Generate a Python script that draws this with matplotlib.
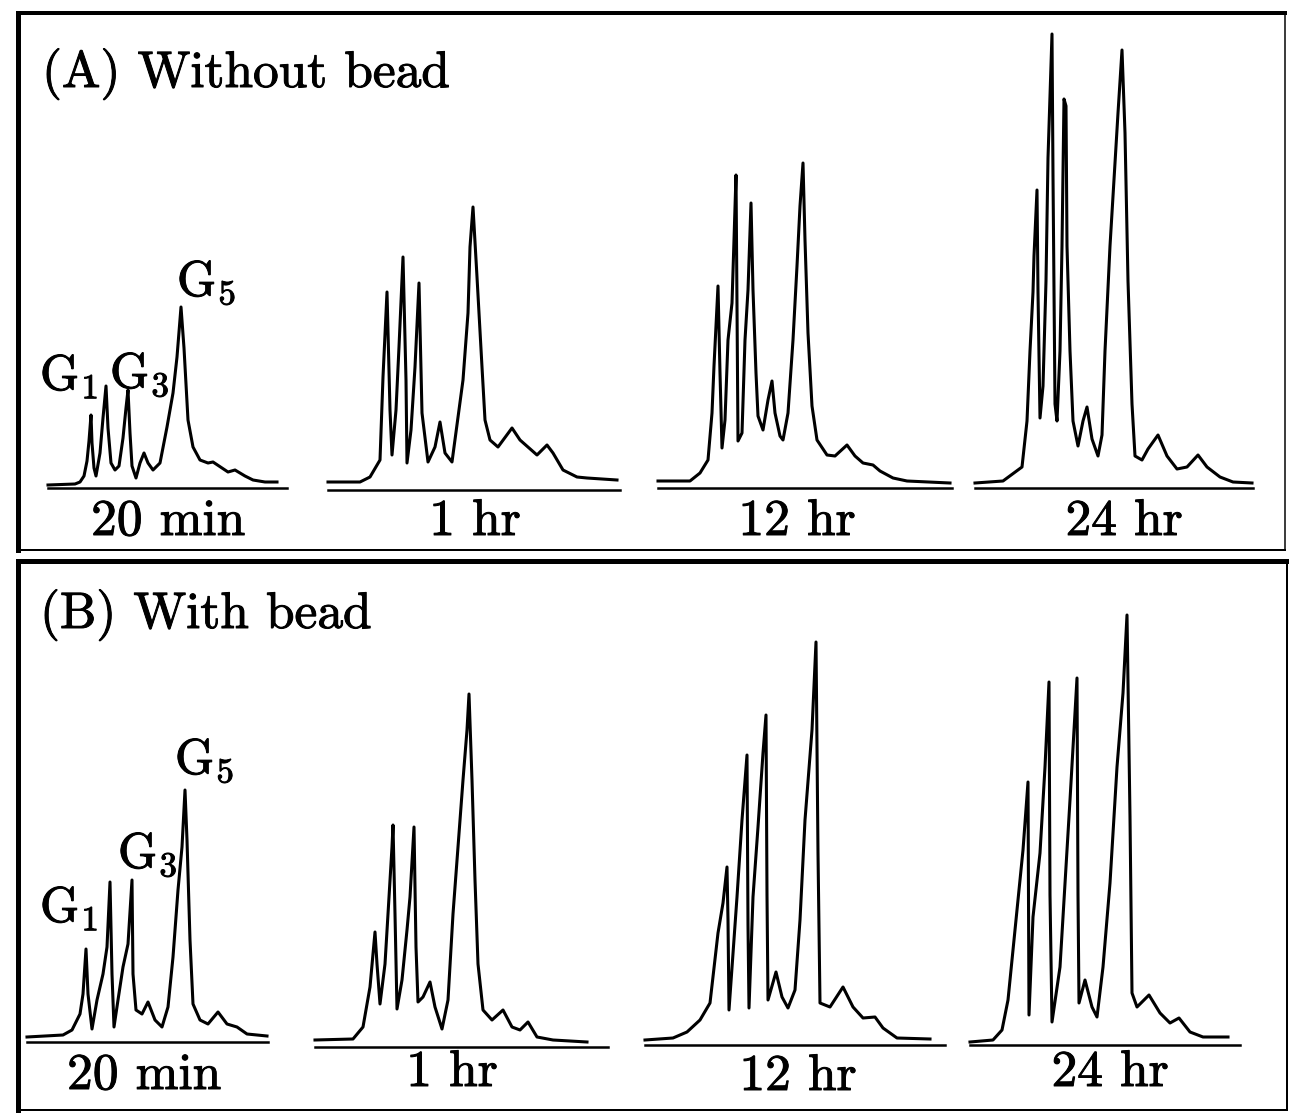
import matplotlib.pyplot as plt
import matplotlib.patheffects as pe
from matplotlib.lines import Line2D

plt.rcParams['mathtext.fontset'] = 'cm'

W, H = 1289, 1115

# ---- traces: elution position (a.u.) vs detector response (a.u.) ----
# (A) without bead
a_20min_t = [0, 27, 32, 36, 39, 41, 43, 44, 46, 48, 52, 55, 58, 60, 63, 67, 71, 75, 78, 80,
             82, 84, 88, 92, 96, 100, 105, 112, 119, 125, 129, 133, 136, 140, 145, 152, 160,
             165, 174, 180, 187, 197, 205, 217, 229]
a_20min_y = [3, 4, 6, 12, 27, 47, 73, 45, 20, 12, 35, 70, 102, 60, 25, 18, 22, 50, 80, 98,
             55, 22, 10, 25, 35, 25, 18, 25, 61, 95, 131, 181, 140, 68, 41, 28, 25,
             26, 20, 16, 18, 12, 8, 6, 6]

a_1hr_t = [0, 32, 42, 52, 55, 59, 62, 64, 68, 71, 75, 78, 79, 83, 87, 91, 94, 100, 107, 112,
           117, 124, 135, 140, 142, 145, 149, 154, 157, 162, 170, 184, 192, 209, 219, 225,
           235, 249, 259, 289]
a_1hr_y = [8, 8, 13, 30, 113, 198, 80, 35, 80, 143, 233, 110, 27, 60, 123, 207, 77, 28, 43, 68,
           37, 28, 110, 177, 243, 283, 213, 123, 70, 50, 43, 62, 50, 35, 45, 37,
           20, 13, 12, 10]

a_12hr_t = [0, 32, 42, 50, 54, 56, 60, 62, 64, 67, 70, 74, 76, 78, 79, 80, 84, 87, 90, 93,
            95, 98, 100, 105, 110, 114, 117, 122, 125, 130, 135, 139, 142, 145, 147, 150,
            154, 159, 169, 177, 189, 197, 205, 215, 222, 235, 249, 292]
a_12hr_y = [7, 7, 15, 28, 75, 122, 202, 115, 40, 68, 148, 185, 248, 313, 182, 47, 55, 148, 198, 285,
            198, 115, 72, 58, 88, 107, 75, 52, 48, 75, 148, 222, 282, 325, 248, 155,
            82, 48, 33, 32, 43, 32, 25, 23, 17, 10, 7, 5]

a_24hr_t = [0, 28, 47, 52, 55, 58, 59, 62, 63, 65, 68, 71, 73, 77, 78, 80, 82, 85, 87, 89,
            91, 92, 95, 98, 103, 108, 112, 117, 123, 127, 130, 135, 140, 143, 147, 150,
            153, 157, 160, 167, 173, 183, 192, 202, 212, 223, 232, 245, 258, 277]
a_24hr_y = [5, 7, 21, 67, 137, 196, 232, 298, 196, 70, 102, 207, 330, 454, 312, 84, 67, 137, 242, 389,
            382, 242, 137, 67, 42, 67, 81, 49, 32, 53, 137, 242, 325, 375, 438, 355,
            207, 84, 32, 28, 39, 53, 32, 19, 21, 33, 21, 11, 6, 5]

# (B) with bead
b_20min_t = [0, 36, 45, 53, 56, 59, 61, 65, 70, 76, 80, 83, 85, 87, 91, 96, 101, 105, 106, 109,
             115, 121, 128, 135, 141, 146, 151, 155, 158, 160, 163, 166, 173, 181, 191, 200,
             210, 220, 240]
b_20min_y = [5, 7, 12, 28, 48, 93, 48, 13, 42, 68, 95, 160, 68, 15, 42, 75, 98, 162, 68, 32,
             28, 40, 22, 15, 35, 85, 152, 195, 252, 202, 102, 38, 22, 18, 30, 18,
             15, 8, 6]

b_1hr_t = [0, 38, 48, 55, 58, 60, 62, 65, 70, 73, 77, 78, 80, 82, 87, 92, 95, 99, 101, 103,
           108, 115, 120, 127, 133, 138, 143, 148, 152, 154, 157, 160, 163, 168, 177, 188,
           197, 205, 213, 222, 238, 272]
b_1hr_y = [7, 8, 20, 60, 93, 115, 83, 43, 83, 133, 200, 222, 133, 38, 67, 117, 150, 220, 100, 45,
           50, 65, 40, 18, 47, 133, 200, 267, 317, 353, 267, 167, 83, 37, 27, 37,
           20, 17, 25, 10, 7, 5]

b_12hr_t = [0, 28, 42, 55, 65, 73, 78, 82, 83, 84, 92, 97, 102, 103, 104, 108, 113, 118, 121, 122,
            123, 131, 137, 143, 150, 155, 160, 167, 171, 173, 175, 185, 198, 208, 218, 230,
            238, 252, 285]
b_12hr_y = [5, 7, 13, 25, 42, 112, 142, 178, 125, 35, 148, 225, 290, 120, 37, 148, 218, 292, 330, 150,
            45, 73, 48, 37, 55, 125, 225, 315, 403, 192, 42, 38, 58, 38, 27, 28,
            17, 7, 6]

b_24hr_t = [0, 23, 32, 38, 43, 48, 53, 58, 59, 63, 70, 75, 79, 80, 82, 90, 93, 100, 107, 108,
            109, 115, 122, 127, 133, 140, 147, 153, 157, 160, 162, 167, 179, 190, 200, 209,
            220, 233, 258]
b_24hr_y = [3, 5, 15, 45, 95, 145, 195, 263, 30, 128, 192, 278, 363, 150, 23, 78, 128, 245, 367, 150,
            42, 65, 38, 28, 78, 162, 278, 352, 430, 228, 52, 38, 50, 32, 22, 27,
            13, 8, 8]

time_labels = ['20 min', '1 hr', '12 hr', '24 hr']
panel_titles = ['(A) Without bead', '(B) With bead']
peak_names = [r'$\mathrm{G}_1$', r'$\mathrm{G}_3$', r'$\mathrm{G}_5$']

traces = [
    [(a_20min_t, a_20min_y), (a_1hr_t, a_1hr_y), (a_12hr_t, a_12hr_y), (a_24hr_t, a_24hr_y)],
    [(b_20min_t, b_20min_y), (b_1hr_t, b_1hr_y), (b_12hr_t, b_12hr_y), (b_24hr_t, b_24hr_y)],
]

# ---- layout (pixels of the 1289x1115 canvas) ----
# per chromatogram: left edge, baseline y, axis length, label centre x, label baseline y
slots = [
    [(48, 488, 239, 168, 535), (328, 490, 292, 475, 535), (658, 488, 294, 797, 535), (975, 488, 278, 1124, 535)],
    [(27, 1042, 241, 144, 1089), (315, 1047, 293, 452, 1086), (645, 1045, 300, 798, 1090), (970, 1045, 270, 1110, 1086)],
]
title_pos = [(42, 87), (40, 628)]
gname_pos = [[(40, 390), (110, 388), (177, 296)], [(40, 922), (118, 868), (175, 774)]]
frames = [(18, 13, 1285, 550, 5, 4, 2, 1.5), (18, 561, 1287, 1110, 5, 5, 2, 2)]

FS = 37
PX = 72 / 100
ink = [pe.withStroke(linewidth=0.7, foreground='black')]


def fx(x):
    return x / W


def fy(y):
    return 1 - y / H


fig = plt.figure(figsize=(W / 100, H / 100), dpi=100)
fig.patch.set_facecolor('white')

for p in range(2):
    for k in range(4):
        t, y = traces[p][k]
        x0, base, length, lx, ly = slots[p][k]
        top = base - 5
        ax = fig.add_axes([fx(x0), fy(base), length / W, top / H])
        ax.plot(t, y, color='black', lw=2.2, solid_joinstyle='round', clip_on=False)
        ax.set_xlim(0, length)
        ax.set_ylim(0, top)
        for s in ['top', 'left', 'right']:
            ax.spines[s].set_visible(False)
        ax.spines['bottom'].set_linewidth(1.8)
        ax.set_xticks([])
        ax.set_yticks([])
        ax.patch.set_alpha(0)
        fig.text(fx(lx), fy(ly), time_labels[k], family='cmr10', fontsize=FS,
                 ha='center', va='baseline', path_effects=ink)

    tx, ty = title_pos[p]
    fig.text(fx(tx), fy(ty), panel_titles[p], family='cmr10', fontsize=FS,
             ha='left', va='baseline', path_effects=ink)
    for name, (gx, gy) in zip(peak_names, gname_pos[p]):
        fig.text(fx(gx), fy(gy), name, fontsize=FS - 1, ha='left', va='baseline',
                 path_effects=ink)

    # panel frame: left, top, bottom, right
    l, tp, r, b, wl, wt, wb, wr = frames[p]
    for (xs, ys, w) in [((l, l), (tp, b), wl), ((l, r), (tp, tp), wt),
                        ((l, r), (b, b), wb), ((r, r), (tp, b), wr)]:
        fig.add_artist(Line2D([fx(xs[0]), fx(xs[1])], [fy(ys[0]), fy(ys[1])],
                              transform=fig.transFigure, color='black', lw=w * PX,
                              solid_capstyle='projecting'))

fig.savefig('out.png', dpi=100, facecolor='white')
